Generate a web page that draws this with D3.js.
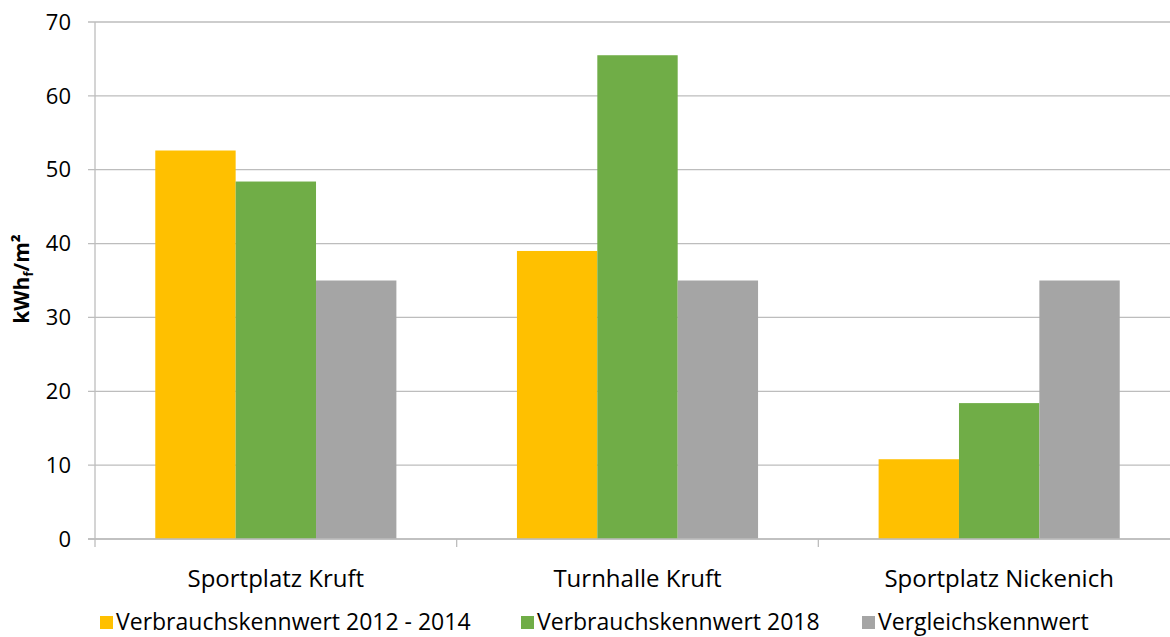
<!DOCTYPE html>
<html><head><meta charset="utf-8">
<script src="https://cdn.jsdelivr.net/npm/d3@7"></script>
<style>body{margin:0;background:#fff}svg{display:block}text{font-family:"Open Sans",sans-serif;fill:#000}</style>
</head><body><svg id="c" width="1170" height="637"></svg>
<script>
const categories = ["Sportplatz Kruft", "Turnhalle Kruft", "Sportplatz Nickenich"];
const seriesNames = ["Verbrauchskennwert 2012 - 2014", "Verbrauchskennwert 2018", "Vergleichskennwert"];
const verbrauch2012_2014 = [52.6, 39.0, 10.8];
const verbrauch2018 = [48.4, 65.5, 18.4];
const vergleich = [35, 35, 35];
const yTicks = [0, 10, 20, 30, 40, 50, 60, 70];
const colors = ["#FFC000", "#70AD47", "#A5A5A5"];
const series = [verbrauch2012_2014, verbrauch2018, vergleich];

(function(){
const svg = d3.select("#c");
const pl = 95, pr = 1180, pt = 22, pb = 539;
const x0 = d3.scaleBand().domain(categories).range([pl, pr]).padding(0);
const bw = x0.bandwidth();
const x1 = d3.scaleBand().domain(d3.range(series.length)).range([bw/6, bw*5/6]).padding(0);
const y = d3.scaleLinear().domain([0, 70]).range([pb, pt]);

svg.append("g").selectAll("line").data(yTicks).join("line")
  .attr("x1", pl - 7).attr("x2", pr).attr("y1", d => y(d)).attr("y2", d => y(d))
  .attr("stroke", "#bdbdbd").attr("stroke-width", 1.3);

svg.append("g").selectAll("text").data(yTicks).join("text")
  .attr("x", 71).attr("y", d => y(d)).attr("dy", "0.35em").attr("text-anchor", "end")
  .style("font-size", "22px").text(d => d);

const g = svg.append("g");
categories.forEach((c, ci) => {
  series.forEach((s, si) => {
    g.append("rect")
      .attr("x", x0(c) + x1(si)).attr("width", x1.bandwidth())
      .attr("y", y(s[ci])).attr("height", y(0) - y(s[ci]))
      .attr("fill", colors[si]);
  });
});

svg.append("line").attr("x1", pl).attr("x2", pl).attr("y1", pt).attr("y2", pb)
  .attr("stroke", "#bdbdbd").attr("stroke-width", 1.3);
svg.append("line").attr("x1", pl - 7).attr("x2", pr).attr("y1", pb).attr("y2", pb)
  .attr("stroke", "#bdbdbd").attr("stroke-width", 1.3);
const bounds = categories.map(c => x0(c)).concat([pr]);
svg.append("g").selectAll("line").data(bounds).join("line")
  .attr("x1", d => d).attr("x2", d => d).attr("y1", pb).attr("y2", pb + 8)
  .attr("stroke", "#bdbdbd").attr("stroke-width", 1.3);

svg.append("g").selectAll("text").data(categories).join("text")
  .attr("x", d => x0(d) + bw/2).attr("y", 587).attr("text-anchor", "middle")
  .style("font-size", "24px").text(d => d);

const yt = svg.append("text").attr("transform", "translate(29,279) rotate(-90)")
  .attr("text-anchor", "middle").style("font-size", "21px").style("font-weight", "bold");
yt.append("tspan").text("kWh");
yt.append("tspan").text("f").style("font-size", "13px").attr("dy", "4");
yt.append("tspan").text("/m²").attr("dy", "-4");

const legX = [100, 521, 862];
const leg = svg.append("g");
seriesNames.forEach((n, i) => {
  leg.append("rect").attr("x", legX[i]).attr("y", 616).attr("width", 13).attr("height", 13).attr("fill", colors[i]);
  leg.append("text").attr("x", legX[i] + 16).attr("y", 622).attr("dy", "0.35em")
    .style("font-size", "23px").text(n);
});
})();
</script></body></html>
